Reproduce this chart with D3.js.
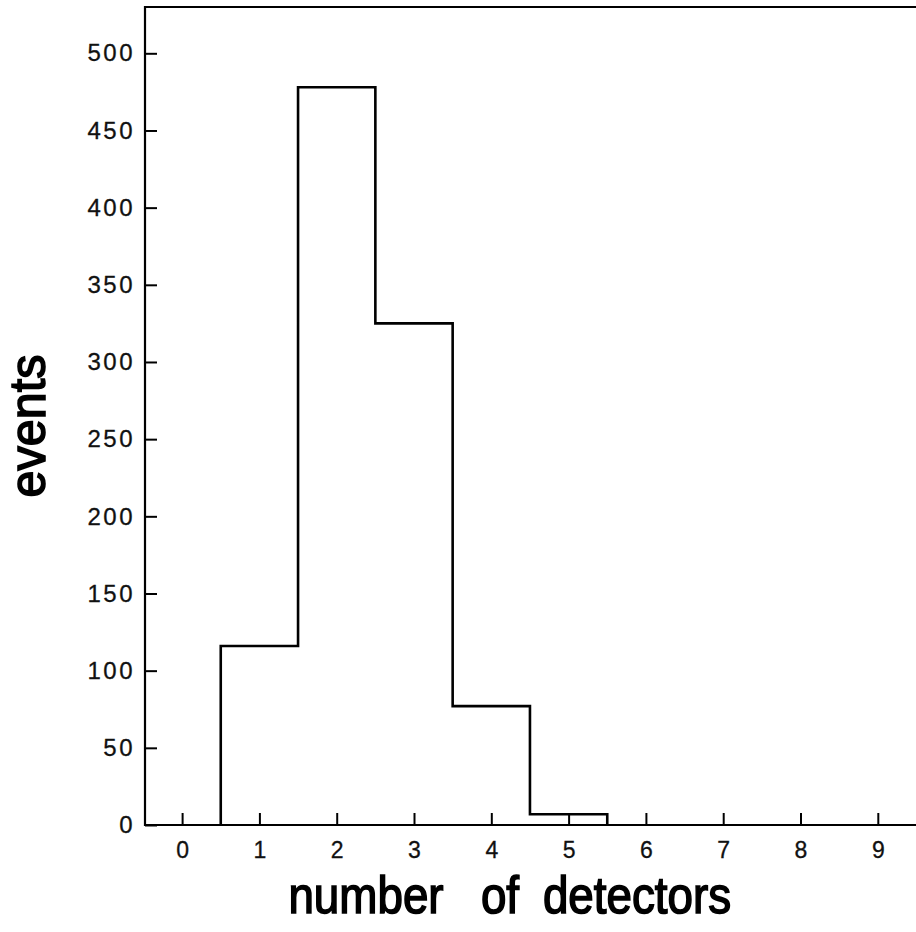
<!DOCTYPE html>
<html>
<head>
<meta charset="utf-8">
<script src="https://cdn.jsdelivr.net/npm/d3@7/dist/d3.min.js"></script>
<style>
  body { margin: 0; background: #fff; }
  svg { display: block; }
</style>
</head>
<body>
<div id="chart"></div>
<script>
// histogram: number of detectors hit per event
var detectors = [1, 2, 3, 4, 5, 6, 7, 8, 9];
var events = [116, 478, 325, 77, 7, 0, 0, 0, 0];
var xTicks = [0, 1, 2, 3, 4, 5, 6, 7, 8, 9];
var yTicks = [0, 50, 100, 150, 200, 250, 300, 350, 400, 450, 500];
var xTitleWords = ["number", "of", "detectors"];

var width = 916, height = 932;
var margin = {left: 145, top: 7, bottom: 107};
var unit = 77.3;

var svg = d3.select("#chart").append("svg")
    .attr("width", width)
    .attr("height", height);

var x = d3.scaleLinear().domain([-0.48, 9.5]).range([margin.left, margin.left + 9.98 * unit]);
var y = d3.scaleLinear().domain([0, 530]).range([height - margin.bottom, margin.top]);

// frame (right side runs off the page)
svg.append("path")
    .attr("d", "M" + x(9.5) + "," + y(530) + "H" + x(-0.48) + "V" + y(0) + "H" + x(9.5))
    .attr("fill", "none")
    .attr("stroke", "#000")
    .attr("stroke-width", 2.2);

var yAxis = svg.append("g")
    .attr("transform", "translate(" + x(-0.48) + ",0)")
    .call(d3.axisLeft(y).tickValues(yTicks).tickSize(-12).tickSizeOuter(0).tickPadding(10));

var xAxis = svg.append("g")
    .attr("transform", "translate(0," + y(0) + ")")
    .call(d3.axisBottom(x).tickValues(xTicks).tickSize(-12).tickSizeOuter(0).tickPadding(17));

[yAxis, xAxis].forEach(function (g) {
    g.select(".domain").remove();
    g.selectAll(".tick line").attr("stroke", "#000").attr("stroke-width", 2);
    g.selectAll(".tick text")
        .attr("fill", "#111")
        .attr("stroke", "#111")
        .attr("stroke-width", 0.3)
        .style("font-family", "'Liberation Sans', Arial, sans-serif");
});
yAxis.selectAll(".tick text").style("font-size", "24px").style("letter-spacing", "2.5px");
xAxis.selectAll(".tick text").style("font-size", "23px");

// step outline of the histogram
var pts = [[detectors[0] - 0.5, 0]];
detectors.forEach(function (d, i) {
    pts.push([d - 0.5, events[i]]);
    pts.push([d + 0.5, events[i]]);
});
var outline = d3.line()
    .x(function (p) { return x(p[0]); })
    .y(function (p) { return y(p[1]); });

// stop drawing once the bins reach zero
var last = 0;
events.forEach(function (v, i) { if (v > 0) last = i; });
var stepPts = pts.slice(0, 2 * last + 3);
stepPts.push([detectors[last] + 0.5, 0]);

svg.append("path")
    .attr("d", outline(stepPts))
    .attr("fill", "none")
    .attr("stroke", "#000")
    .attr("stroke-width", 2.6)
    .attr("stroke-linejoin", "miter");

// axis titles: heavy lettering, words set well apart
var wordMid = [366, 500, 637];
var titles = svg.selectAll(".xtitle")
    .data(xTitleWords)
    .enter().append("text")
    .attr("class", "xtitle")
    .attr("x", function (d, i) { return wordMid[i]; })
    .attr("y", 913)
    .attr("text-anchor", "middle")
    .attr("fill", "#000")
    .attr("stroke", "#000")
    .attr("stroke-width", 1.6)
    .style("font-family", "'Liberation Sans', Arial, sans-serif")
    .style("font-size", "52px")
    .text(function (d) { return d; });
titles.each(function () {
    var w = this.getComputedTextLength();
    d3.select(this).attr("textLength", w * 0.88).attr("lengthAdjust", "spacingAndGlyphs");
});

svg.append("text")
    .attr("transform", "translate(45,426) rotate(-90)")
    .attr("text-anchor", "middle")
    .attr("textLength", 143)
    .attr("lengthAdjust", "spacingAndGlyphs")
    .attr("fill", "#000")
    .attr("stroke", "#000")
    .attr("stroke-width", 1.6)
    .style("font-family", "'Liberation Sans', Arial, sans-serif")
    .style("font-size", "50px")
    .text("events");
</script>
</body>
</html>
